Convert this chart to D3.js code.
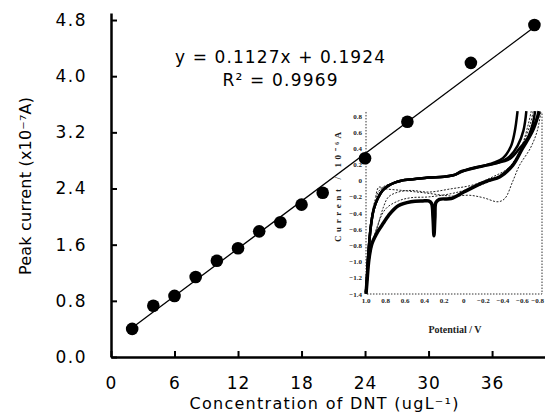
<!DOCTYPE html>
<html>
<head>
<meta charset="utf-8">
<script src="https://cdn.jsdelivr.net/npm/d3@7"></script>
<style>
  body { margin: 0; background: #fff; }
  svg { display: block; }
</style>
</head>
<body>
<div id="chart"></div>
<script>
// main calibration data
const concentration = [2, 4, 6, 8, 10, 12, 14, 16, 18, 20, 24, 28, 34, 40];
const peakCurrent = [0.40, 0.73, 0.87, 1.14, 1.37, 1.55, 1.79, 1.92, 2.17, 2.34, 2.83, 3.35, 4.19, 4.73];
const xTicks = [0, 6, 12, 18, 24, 30, 36];
const yTicks = [0, 0.8, 1.6, 2.4, 3.2, 4.0, 4.8];
const fitSlope = 0.1127;
const fitIntercept = 0.1924;
const fitRange = [2, 40];
const equationText = "y = 0.1127x + 0.1924";
const r2Text = "R\u00b2 = 0.9969";

// inset voltammograms [potential V, current]
const insetXTicks = [1.0, 0.8, 0.6, 0.4, 0.2, 0, -0.2, -0.4, -0.6, -0.8];
const insetYTicks = [0.8, 0.6, 0.4, 0.2, 0, -0.2, -0.4, -0.6, -0.8, -1.0, -1.2, -1.4];
const upperScanBase = [[1.0, -1.38], [0.99, -1.2], [0.98, -0.97], [0.95, -0.56], [0.92, -0.35], [0.88, -0.22],
  [0.83, -0.12], [0.77, -0.06], [0.70, -0.02], [0.64, 0.0], [0.5, 0.02], [0.36, 0.04], [0.2, 0.05], [0.1, 0.07]];
const upperScanTails = [
  [[0.04, 0.1], [-0.06, 0.15], [-0.3, 0.21], [-0.47, 0.27], [-0.57, 0.40], [-0.65, 0.52], [-0.70, 0.68], [-0.73, 0.86]],
  [[0.02, 0.12], [-0.15, 0.17], [-0.3, 0.22], [-0.4, 0.28], [-0.48, 0.42], [-0.52, 0.6], [-0.55, 0.86]],
  [[0.03, 0.11], [-0.2, 0.18], [-0.35, 0.22], [-0.47, 0.3], [-0.55, 0.43], [-0.61, 0.62], [-0.64, 0.86]],
];
const lowerScan = [[1.0, -1.4], [0.99, -1.25], [0.97, -0.97], [0.94, -0.78], [0.88, -0.63], [0.82, -0.52],
  [0.77, -0.43], [0.67, -0.31], [0.54, -0.26], [0.42, -0.25], [0.36, -0.25], [0.33, -0.28], [0.315, -0.45],
  [0.305, -0.68], [0.295, -0.45], [0.285, -0.27], [0.25, -0.23], [0.13, -0.22], [0.0, -0.14], [-0.13, -0.06],
  [-0.25, 0.0], [-0.37, 0.05], [-0.5, 0.19], [-0.6, 0.40], [-0.70, 0.61], [-0.76, 0.81], [-0.77, 0.86]];
const middleScans = [
  [[0.98, -1.1], [0.93, -0.75], [0.88, -0.56], [0.82, -0.32], [0.77, -0.2], [0.67, -0.14], [0.54, -0.12],
    [0.36, -0.14], [0.13, -0.10], [-0.1, -0.05], [-0.3, 0.05], [-0.45, 0.15], [-0.55, 0.3], [-0.62, 0.5],
    [-0.68, 0.7], [-0.71, 0.86]],
  [[0.97, -1.0], [0.9, -0.62], [0.8, -0.35], [0.67, -0.25], [0.54, -0.21], [0.36, -0.2], [0.13, -0.16],
    [0.0, -0.12], [-0.2, -0.04], [-0.4, 0.08], [-0.52, 0.25], [-0.6, 0.45], [-0.66, 0.7], [-0.69, 0.86]],
  [[0.99, -1.2], [0.96, -0.6], [0.93, -0.35], [0.89, -0.18], [0.85, -0.10], [0.8, -0.06], [0.75, -0.04]],
];
const blankScan = [[0.9, -0.2], [0.87, -0.08], [0.8, -0.1], [0.63, -0.12], [0.4, -0.15], [0.12, -0.19],
  [-0.06, -0.18], [-0.2, -0.21], [-0.35, -0.26], [-0.42, -0.22], [-0.5, -0.01], [-0.57, 0.19],
  [-0.68, 0.40], [-0.75, 0.61], [-0.79, 0.86]];

const WIDTH = 545;
const HEIGHT = 418;
const FONT = "'DejaVu Sans', sans-serif";
const SERIF = "'Liberation Serif', serif";

const svg = d3
  .select("#chart")
  .append("svg")
  .attr("width", WIDTH)
  .attr("height", HEIGHT)
  .style("background", "#fff");

// scales
const x = d3.scaleLinear().domain([0, 41]).range([111, 545]);
const y = d3.scaleLinear().domain([0, 4.9]).range([357, 13]);
const ix = d3.scaleLinear().domain([1.0, -0.8]).range([366, 542]);
const iy = d3.scaleLinear().domain([-1.4, 0.8]).range([294, 116]);

// ---- inset ----
const inset = svg.append("g").attr("class", "inset");

inset
  .append("path")
  .attr("d", `M${ix(1.0)},${iy(0.85)}V${iy(-1.4)}H${ix(-0.8)}V${iy(0.85)}`)
  .attr("fill", "none")
  .attr("stroke", "#333")
  .attr("stroke-width", 1)
  .attr("stroke-dasharray", "1.5,1.5");

// last label sits against the right edge, so anchor it at its end
inset
  .append("g")
  .selectAll("text")
  .data(insetXTicks)
  .join("text")
  .attr("x", (d, i) => (i === insetXTicks.length - 1 ? WIDTH - 1 : ix(d)))
  .attr("y", 303)
  .attr("text-anchor", (d, i) => (i === insetXTicks.length - 1 ? "end" : "middle"))
  .attr("font-family", SERIF)
  .attr("font-weight", "bold")
  .attr("font-size", 7)
  .attr("fill", "#222")
  .text((d) => (d === 0 ? "0" : d3.format(".1f")(d)));

inset
  .append("g")
  .selectAll("text")
  .data(insetYTicks)
  .join("text")
  .attr("x", 362)
  .attr("y", (d) => iy(d) + 2.5)
  .attr("text-anchor", "end")
  .attr("font-family", SERIF)
  .attr("font-weight", "bold")
  .attr("font-size", 7)
  .attr("fill", "#222")
  .text((d) => (d === 0 ? "0" : d3.format(".1f")(d)));

inset
  .append("text")
  .attr("x", 455)
  .attr("y", 333)
  .attr("text-anchor", "middle")
  .attr("font-family", SERIF)
  .attr("font-weight", "bold")
  .attr("font-size", 10)
  .attr("fill", "#222")
  .text("Potential / V");

inset
  .append("text")
  .attr("transform", "translate(341,187) rotate(-90)")
  .attr("text-anchor", "middle")
  .attr("font-family", SERIF)
  .attr("font-weight", "bold")
  .attr("font-size", 9)
  .attr("textLength", 110)
  .attr("lengthAdjust", "spacing")
  .attr("fill", "#222")
  .text("Current / 10\u207b\u2076A");

const cv = d3
  .line()
  .x((d) => ix(d[0]))
  .y((d) => iy(d[1]))
  .curve(d3.curveCatmullRom.alpha(0.5));

inset
  .append("g")
  .selectAll("path")
  .data(middleScans)
  .join("path")
  .attr("d", cv)
  .attr("fill", "none")
  .attr("stroke", "#222")
  .attr("stroke-width", 1)
  .attr("stroke-dasharray", "2,1.5");

inset
  .append("path")
  .attr("d", cv(blankScan))
  .attr("fill", "none")
  .attr("stroke", "#222")
  .attr("stroke-width", 1)
  .attr("stroke-dasharray", "2,1.5");

inset
  .append("g")
  .selectAll("path")
  .data(upperScanTails.map((t) => upperScanBase.concat(t)))
  .join("path")
  .attr("d", cv)
  .attr("fill", "none")
  .attr("stroke", "#000")
  .attr("stroke-width", 2.5);

inset
  .append("path")
  .attr("d", cv(lowerScan))
  .attr("fill", "none")
  .attr("stroke", "#000")
  .attr("stroke-width", 3.5);

// ---- main axes ----
svg
  .append("g")
  .attr("transform", "translate(0,357)")
  .call(
    d3.axisBottom(x).tickValues(xTicks).tickSize(-6).tickSizeOuter(0).tickPadding(20).tickFormat(d3.format("d"))
  )
  .call((g) => g.select(".domain").attr("stroke-width", 2.5))
  .call((g) => g.selectAll(".tick line").attr("stroke-width", 2))
  .call((g) =>
    g.selectAll("text").attr("font-family", FONT).attr("font-size", 17).attr("letter-spacing", 1).attr("fill", "#000")
  );

svg
  .append("g")
  .attr("transform", "translate(111,0)")
  .call(
    d3.axisLeft(y).tickValues(yTicks).tickSize(-6).tickSizeOuter(0).tickPadding(24).tickFormat(d3.format(".1f"))
  )
  .call((g) => g.select(".domain").attr("stroke-width", 2.5))
  .call((g) => g.selectAll(".tick line").attr("stroke-width", 2))
  .call((g) =>
    g.selectAll("text").attr("font-family", FONT).attr("font-size", 17).attr("letter-spacing", 1.5).attr("fill", "#000")
  );

// axis titles
svg
  .append("text")
  .attr("x", 324)
  .attr("y", 409)
  .attr("text-anchor", "middle")
  .attr("font-family", FONT)
  .attr("font-size", 16)
  .attr("textLength", 269)
  .attr("lengthAdjust", "spacing")
  .text("Concentration of DNT (ugL\u207b\u00b9)");

svg
  .append("text")
  .attr("transform", "translate(31,186) rotate(-90)")
  .attr("text-anchor", "middle")
  .attr("font-family", FONT)
  .attr("font-size", 16)
  .attr("textLength", 178)
  .attr("lengthAdjust", "spacing")
  .text("Peak current (x10\u207b\u2077A)");

// regression equation
svg
  .append("text")
  .attr("x", 280)
  .attr("y", 63)
  .attr("text-anchor", "middle")
  .attr("font-family", FONT)
  .attr("font-size", 17)
  .attr("textLength", 210)
  .attr("lengthAdjust", "spacing")
  .text(equationText);

svg
  .append("text")
  .attr("x", 280)
  .attr("y", 86)
  .attr("text-anchor", "middle")
  .attr("font-family", FONT)
  .attr("font-size", 17)
  .attr("textLength", 115)
  .attr("lengthAdjust", "spacing")
  .text(r2Text);

// fit line
svg
  .append("path")
  .attr(
    "d",
    d3
      .line()
      .x((d) => x(d))
      .y((d) => y(fitSlope * d + fitIntercept))(fitRange)
  )
  .attr("stroke", "#000")
  .attr("stroke-width", 1.3)
  .attr("fill", "none");

// data points
svg
  .append("g")
  .selectAll("circle")
  .data(concentration)
  .join("circle")
  .attr("cx", (d) => x(d))
  .attr("cy", (d, i) => y(peakCurrent[i]))
  .attr("r", 6.3)
  .attr("fill", "#000");
</script>
</body>
</html>
